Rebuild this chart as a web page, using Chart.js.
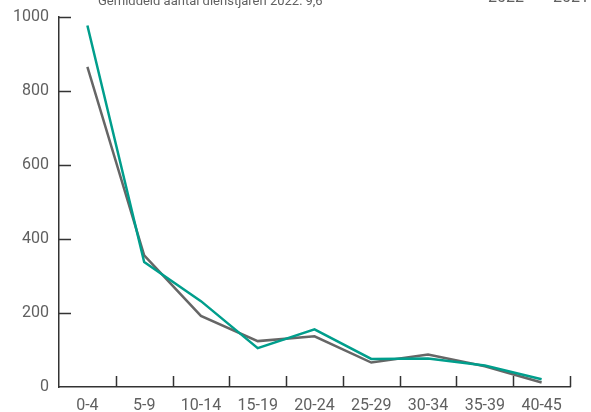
<!DOCTYPE html>
<html>
<head>
<meta charset="utf-8">
<style>
  html, body { margin: 0; padding: 0; background: #fff; overflow: hidden; }
  #wrap { position: relative; width: 591px; height: 412px; }
</style>
<script src="https://cdn.jsdelivr.net/npm/chart.js@4.4.1/dist/chart.umd.min.js"></script>
</head>
<body>
<div id="wrap"><canvas id="chart" width="591" height="412"></canvas></div>
<script>
// dienstjaren per klasse
const categories = ['0-4', '5-9', '10-14', '15-19', '20-24', '25-29', '30-34', '35-39', '40-45'];
const values2022 = [977, 338, 232, 105, 156, 76, 77, 58, 21];
const values2021 = [865, 356, 192, 124, 137, 66, 88, 56, 12];
const seriesNames = ['2022', '2021'];
const yTicks = [0, 200, 400, 600, 800, 1000];

const titleText = 'Gemiddeld aantal dienstjaren 2022: 9,6';
const TEAL = '#009e8c';
const GREY = '#666666';
const AXIS = '#333333';
const TEXT = '#606060';

// inward tick marks + cropped title/legend
const decorPlugin = {
    id: 'decor',
    afterDraw(chart) {
        const ctx = chart.ctx;
        const area = chart.chartArea;
        const y = chart.scales.y;
        ctx.save();
        ctx.strokeStyle = AXIS;
        ctx.lineWidth = 1.5;
        ctx.beginPath();
        // y ticks pointing right
        yTicks.forEach(v => {
            if (v === 0) return;
            const py = Math.round(y.getPixelForValue(v)) + 0.5;
            ctx.moveTo(area.left, py);
            ctx.lineTo(area.left + 12, py);
        });
        // x ticks pointing up, between categories
        const step = (area.right - area.left) / categories.length;
        for (let i = 1; i <= categories.length; i++) {
            const px = Math.round(area.left + i * step) + 0.5;
            ctx.moveTo(px, area.bottom);
            ctx.lineTo(px, area.bottom - 11);
        }
        ctx.stroke();

        // title + legend (top of the image is cropped)
        ctx.fillStyle = TEXT;
        ctx.textBaseline = 'alphabetic';
        ctx.font = '13px Roboto';
        ctx.textAlign = 'left';
        ctx.fillText(titleText, 98, 5);
        ctx.font = '16px Roboto';
        ctx.fillText(seriesNames[0], 488, 2);
        ctx.fillText(seriesNames[1], 553, 2);
        ctx.restore();
    }
};

new Chart(document.getElementById('chart').getContext('2d'), {
    type: 'line',
    data: {
        labels: categories,
        datasets: [{
            label: seriesNames[0],
            data: values2022,
            borderColor: TEAL,
            borderWidth: 2.5,
            pointRadius: 0,
            tension: 0
        }, {
            label: seriesNames[1],
            data: values2021,
            borderColor: GREY,
            borderWidth: 2.5,
            pointRadius: 0,
            tension: 0
        }]
    },
    options: {
        responsive: false,
        animation: false,
        layout: { padding: { top: 17, right: 21, left: 0, bottom: 0 } },
        plugins: {
            legend: { display: false },
            title: { display: false },
            tooltip: { enabled: false }
        },
        scales: {
            x: {
                offset: true,
                grid: { display: false, drawTicks: false },
                border: { display: true, color: AXIS, width: 1.5 },
                ticks: {
                    color: TEXT,
                    font: { family: 'Roboto', size: 16 },
                    padding: 9,
                    maxRotation: 0,
                    autoSkip: false
                },
                afterFit(scale) {
                    scale.height = 25;
                    scale.paddingLeft = 0;
                    scale.paddingRight = 0;
                }
            },
            y: {
                min: 0,
                max: 1000,
                afterBuildTicks(scale) { scale.ticks = yTicks.map(v => ({ value: v })); },
                grid: { display: false, drawTicks: false },
                border: { display: true, color: AXIS, width: 1.5 },
                ticks: {
                    color: TEXT,
                    font: { family: 'Roboto', size: 16 },
                    padding: 10,
                    callback: v => String(v)
                },
                afterFit(scale) {
                    scale.width = 59;
                    scale.paddingTop = 0;
                    scale.paddingBottom = 0;
                }
            }
        }
    },
    plugins: [decorPlugin]
});
</script>
</body>
</html>
